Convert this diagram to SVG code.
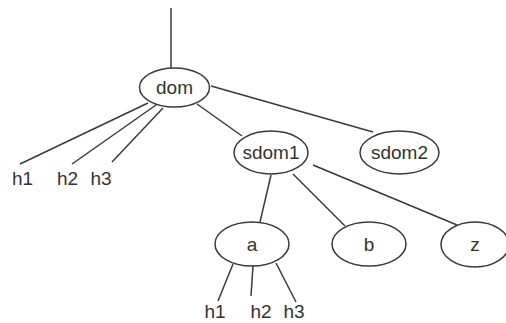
<svg xmlns="http://www.w3.org/2000/svg" width="506" height="323" viewBox="0 0 506 323">
<style>
.n{fill:#fff;stroke:#3a3a3a;stroke-width:1.5}
.t{font-family:"Liberation Sans",Arial,sans-serif;font-size:19px;fill:#333;text-anchor:middle}
.e{stroke:#3a3a3a;stroke-width:1.5;fill:none}
</style>
<rect width="506" height="323" fill="#fff"/>
<g id="connectors" class="e">
<line x1="171" y1="8" x2="171" y2="68"/>
<line x1="148" y1="103" x2="20" y2="164"/>
<line x1="156" y1="105" x2="72" y2="164"/>
<line x1="163" y1="108" x2="112" y2="162"/>
<line x1="197" y1="104" x2="242" y2="136"/>
<line x1="211" y1="86" x2="373" y2="132"/>
<line x1="271" y1="175" x2="260" y2="222"/>
<line x1="293" y1="174" x2="345" y2="226"/>
<line x1="313" y1="165" x2="457" y2="225"/>
<line x1="233" y1="264" x2="218" y2="301"/>
<line x1="253" y1="266" x2="251" y2="296"/>
<line x1="276" y1="263" x2="296" y2="302"/>
</g>
<g id="dom"><ellipse class="n" cx="174.5" cy="87.5" rx="35" ry="19.5"/><text class="t" x="174.5" y="94">dom</text></g>
<g id="sdom1"><ellipse class="n" cx="271" cy="152.5" rx="37" ry="21.5"/><text class="t" x="271" y="159">sdom1</text></g>
<g id="sdom2"><ellipse class="n" cx="399.5" cy="152.5" rx="39.5" ry="21.5"/><text class="t" x="399.5" y="159">sdom2</text></g>
<g id="a"><ellipse class="n" cx="252" cy="244" rx="37" ry="22"/><text class="t" x="252" y="251">a</text></g>
<g id="b"><ellipse class="n" cx="369" cy="244" rx="37" ry="22"/><text class="t" x="369" y="251">b</text></g>
<g id="z"><ellipse class="n" cx="475" cy="244.5" rx="34" ry="22.5"/><text class="t" x="475" y="251">z</text></g>
<g id="h1-top"><text class="t" x="22.5" y="185">h1</text></g>
<g id="h2-top"><text class="t" x="67.5" y="185">h2</text></g>
<g id="h3-top"><text class="t" x="101" y="185">h3</text></g>
<g id="h1-bottom"><text class="t" x="215" y="318">h1</text></g>
<g id="h2-bottom"><text class="t" x="261" y="318">h2</text></g>
<g id="h3-bottom"><text class="t" x="294" y="318">h3</text></g>
</svg>
